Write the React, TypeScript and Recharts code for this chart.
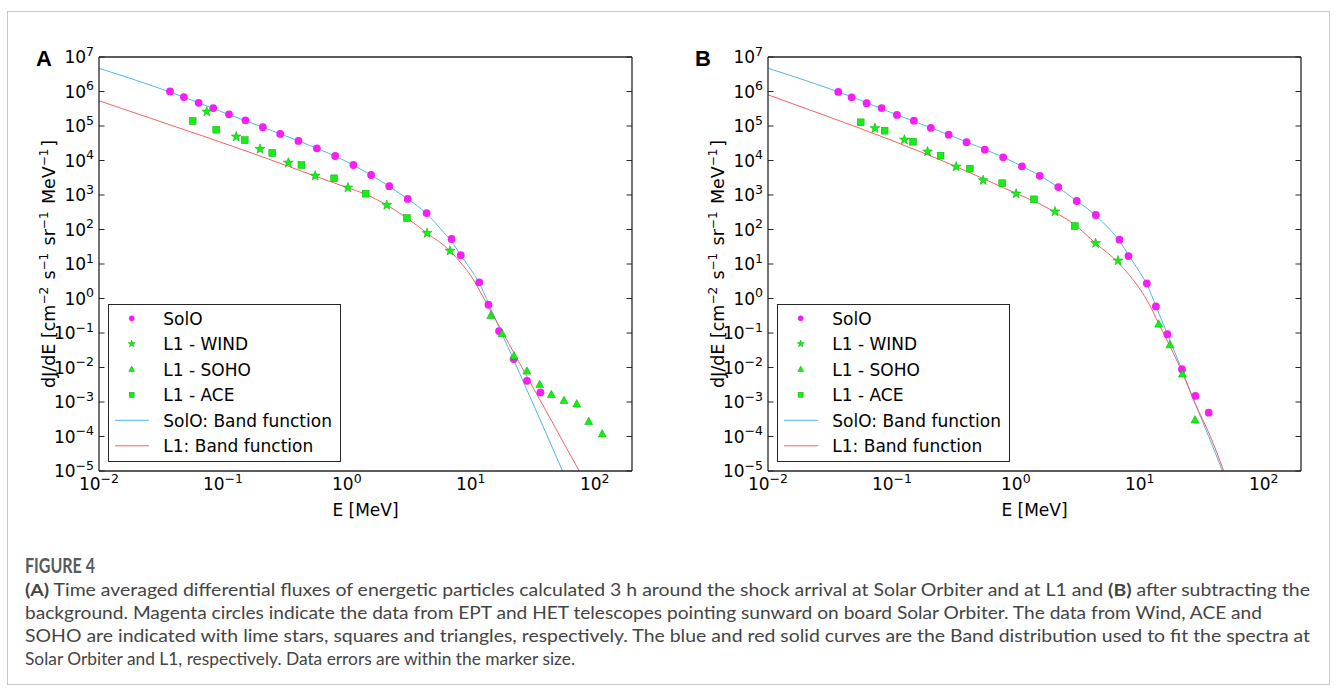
import React from "react";
import { ComposedChart, Line, Scatter, XAxis, YAxis, Legend } from "recharts";

// axis ticks
const X_MAJOR = [0.01, 0.1, 1, 10, 100];
const X_MINOR = [
  0.02, 0.03, 0.04, 0.05, 0.06, 0.07, 0.08, 0.09,
  0.2, 0.3, 0.4, 0.5, 0.6, 0.7, 0.8, 0.9,
  2, 3, 4, 5, 6, 7, 8, 9,
  20, 30, 40, 50, 60, 70, 80, 90,
];
const Y_MAJOR = [1e-5, 1e-4, 1e-3, 1e-2, 1e-1, 1, 1e1, 1e2, 1e3, 1e4, 1e5, 1e6, 1e7];

// panel A: [E (MeV), dJ/dE]
const solO_A = [
  [0.0374, 1.0e6], [0.0484, 6.9e5], [0.0637, 4.7e5], [0.0836, 3.3e5], [0.112, 2.18e5],
  [0.152, 1.46e5], [0.21, 9.2e4], [0.29, 5.9e4], [0.407, 3.7e4], [0.573, 2.26e4],
  [0.805, 1.35e4], [1.13, 7.4e3], [1.57, 3.8e3], [2.2, 1.8e3], [3.1, 770], [4.4, 300],
  [7.0, 53], [8.3, 18], [11.7, 2.95], [13.9, 0.66], [16.9, 0.114], [22.2, 0.0176],
  [28.4, 0.0041], [36.5, 0.0019],
];
const wind_A = [
  [0.074, 2.6e5], [0.128, 4.9e4], [0.199, 2.15e4], [0.337, 8.6e3], [0.555, 3.6e3],
  [1.02, 1.63e3], [2.1, 510], [4.44, 78], [6.8, 24],
];
const soho_A = [
  [14.5, 0.32], [17.9, 0.095], [22.3, 0.0215], [28.4, 0.0078], [36, 0.0032],
  [44.7, 0.00163], [56.5, 0.00109], [71.6, 0.00087], [89.5, 0.00027], [115, 0.000118],
];
const ace_A = [
  [0.057, 1.4e5], [0.0883, 7.8e4], [0.15, 3.9e4], [0.25, 1.65e4], [0.43, 7.4e3],
  [0.79, 3.05e3], [1.42, 1.09e3], [3.05, 215],
];
const bandSolO_A = [
  [0.01, 4.7e6], [0.02, 2.1e6], [0.05, 6.6e5], [0.1, 2.5e5], [0.2, 9.8e4], [0.5, 2.75e4],
  [1, 9.2e3], [2, 2.2e3], [3, 830], [4, 385], [5, 180], [5.8, 97], [7, 45], [8.3, 18],
  [10, 7], [11.7, 2.8], [14, 0.69], [17, 0.14], [22, 0.018], [28, 2.5e-3], [38, 2.1e-4],
  [55, 1e-5],
];
const bandL1_A = [
  [0.01, 5.4e5], [0.03, 1.41e5], [0.074, 4.7e4], [0.2, 1.35e4], [0.55, 3.56e3], [1, 1.65e3],
  [1.42, 1.05e3], [2.1, 510], [3.05, 215], [4.44, 78], [6.8, 24], [8.5, 9.8], [10, 4.6],
  [11.7, 1.77], [14, 0.55], [17, 0.155], [22, 0.029], [28, 6e-3], [40, 6e-4], [75, 1e-5],
];

// panel B
const solO_B = [
  [0.0369, 9.7e5], [0.0473, 6.8e5], [0.0625, 4.6e5], [0.0826, 3.3e5], [0.1097, 2.1e5],
  [0.1504, 1.43e5], [0.206, 8.8e4], [0.287, 5.6e4], [0.4, 3.4e4], [0.562, 2.06e4],
  [0.79, 1.24e4], [1.12, 6.8e3], [1.56, 3.6e3], [2.2, 1.7e3], [3.1, 670], [4.42, 263],
  [6.86, 50.6], [8.11, 17], [11.4, 2.76], [13.5, 0.59], [16.7, 0.092], [21.9, 0.0089],
  [28.1, 0.0015], [36, 4.9e-4],
];
const wind_B = [
  [0.073, 8.6e4], [0.126, 4.0e4], [0.194, 1.8e4], [0.33, 6.6e3], [0.545, 2.67e3],
  [1.005, 1.09e3], [2.07, 330], [4.4, 40], [6.68, 12.5],
];
const soho_B = [[14.2, 0.18], [17.5, 0.045], [22.1, 0.0064], [27.9, 3.0e-4]];
const ace_B = [
  [0.056, 1.28e5], [0.0874, 7.3e4], [0.148, 3.5e4], [0.247, 1.38e4], [0.425, 5.8e3],
  [0.776, 2.2e3], [1.4, 750], [2.99, 126],
];
const bandSolO_B = [
  [0.01, 4.7e6], [0.02, 2.1e6], [0.05, 6.5e5], [0.1, 2.4e5], [0.2, 9.2e4], [0.5, 2.5e4],
  [1, 8.4e3], [2, 2.1e3], [3, 730], [4, 342], [5, 165], [6, 85], [7, 42], [8.1, 18.5],
  [10, 5.8], [11.4, 2.6], [13.5, 0.6], [16.7, 0.092], [21.9, 0.0085], [28, 9e-4],
  [36, 1.0e-4], [46.5, 1e-5],
];
const bandL1_B = [
  [0.01, 8.0e5], [0.03, 1.92e5], [0.1, 3.8e4], [0.3, 7.7e3], [1, 1.12e3], [1.5, 590],
  [2, 340], [3, 135], [4.4, 40], [6.7, 11], [8.3, 4.6], [10, 1.9], [12, 0.65], [14.2, 0.19],
  [17.5, 0.042], [22, 0.0072], [28, 9e-4], [36.7, 1.1e-4], [47.6, 1e-5],
];

const CAPTION = [
  "background. Magenta circles indicate the data from EPT and HET telescopes pointing sunward on board Solar Orbiter. The data from Wind, ACE and",
  "SOHO are indicated with lime stars, squares and triangles, respectively. The blue and red solid curves are the Band distribution used to fit the spectra at",
  "Solar Orbiter and L1, respectively. Data errors are within the marker size.",
];

const FONT = "'DejaVu Sans', sans-serif";
const AX = "#262626";
const MAGENTA = "#f51ef5";
const LIME = "#14f014";
const LIME_EDGE = "#00a800";
const BLUE = "#52b6e8";
const RED = "#f06464";

const pts = (rows: number[][]) => rows.map(([x, y]) => ({ x, y }));

function starPath(cx: number, cy: number, ro: number, ri: number) {
  let d = "";
  for (let i = 0; i < 10; i++) {
    const r = i % 2 === 0 ? ro : ri;
    const a = -Math.PI / 2 + (i * Math.PI) / 5;
    d += `${i === 0 ? "M" : "L"}${cx + r * Math.cos(a)},${cy + r * Math.sin(a)}`;
  }
  return d + "Z";
}

function Marker({ kind, cx, cy, s = 1 }: { kind: string; cx: number; cy: number; s?: number }) {
  if (kind === "circle") return <circle cx={cx} cy={cy} r={3.9 * s} fill={MAGENTA} />;
  if (kind === "star")
    return <path d={starPath(cx, cy, 5.2 * s, 2.1 * s)} fill={LIME} stroke={LIME_EDGE} strokeWidth={0.5} />;
  if (kind === "triangle")
    return (
      <path
        d={`M${cx},${cy - 4.5 * s}L${cx - 4 * s},${cy + 2.9 * s}L${cx + 4 * s},${cy + 2.9 * s}Z`}
        fill={LIME}
        stroke={LIME_EDGE}
        strokeWidth={0.5}
      />
    );
  return (
    <rect x={cx - 3.4 * s} y={cy - 3.4 * s} width={6.8 * s} height={6.8 * s} fill={LIME} stroke={LIME_EDGE} strokeWidth={0.5} />
  );
}

const shapeOf = (kind: string) => (p: any) => <Marker kind={kind} cx={p.cx} cy={p.cy} />;

const NoLabel = () => <g />;

function PowTick(props: any) {
  const { x, y, payload, side } = props;
  const e = Math.round(Math.log10(payload.value));
  const exp = e < 0 ? `\u2212${-e}` : `${e}`;
  const left = side === "left";
  return (
    <text
      x={left ? x - 5 : x}
      y={left ? y + 6 : y + 19}
      textAnchor={left ? "end" : "middle"}
      fontFamily={FONT}
      fontSize={17}
      fill="#000"
    >
      10
      <tspan dy={-7.5} fontSize={12.5}>
        {exp}
      </tspan>
    </text>
  );
}

const LEGEND_ROWS = [
  { name: "SolO", kind: "circle" },
  { name: "L1 - WIND", kind: "star" },
  { name: "L1 - SOHO", kind: "triangle" },
  { name: "L1 - ACE", kind: "square" },
  { name: "SolO: Band function", kind: "lineBlue" },
  { name: "L1: Band function", kind: "lineRed" },
];

function LegendBox() {
  return (
    <div style={{ width: 233, height: 158, border: `1.5px solid ${AX}`, background: "#fff", boxSizing: "border-box" }}>
      <svg width={230} height={155} style={{ display: "block" }}>
        {LEGEND_ROWS.map((r, i) => {
          const cy = 13.3 + 25.5 * i;
          return (
            <g key={r.name}>
              {r.kind.startsWith("line") ? (
                <line x1={6} x2={40} y1={cy} y2={cy} stroke={r.kind === "lineBlue" ? BLUE : RED} strokeWidth={1} />
              ) : (
                <Marker kind={r.kind} cx={22.7} cy={cy} s={0.72} />
              )}
              <text x={54.3} y={cy + 6.3} fontFamily={FONT} fontSize={17} fill="#000">
                {r.name}
              </text>
            </g>
          );
        })}
      </svg>
    </div>
  );
}

const xCommon = { type: "number" as const, scale: "log" as const, domain: [0.01, 200], allowDataOverflow: true, interval: 0 as const };
const yCommon = { type: "number" as const, scale: "log" as const, domain: [1e-5, 1e7], allowDataOverflow: true, interval: 0 as const };

function Panel({
  solO, wind, soho, ace, bandSolO, bandL1,
}: {
  solO: number[][]; wind: number[][]; soho: number[][]; ace: number[][]; bandSolO: number[][]; bandL1: number[][];
}) {
  const tl = { stroke: AX, strokeWidth: 1 };
  const frame = { stroke: AX, strokeWidth: 1.3 };
  return (
    <ComposedChart width={660} height={520} margin={{ top: 57, right: 28, bottom: 9, left: 39 }}>
      <XAxis
        xAxisId="x"
        dataKey="x"
        {...xCommon}
        height={40}
        ticks={X_MAJOR}
        tickSize={0}
        tickMargin={0}
        tickLine={false}
        tick={<PowTick side="bottom" />}
        axisLine={frame}
      />
      <YAxis
        yAxisId="y"
        {...yCommon}
        width={60}
        ticks={Y_MAJOR}
        tickSize={0}
        tickMargin={0}
        tickLine={false}
        tick={<PowTick side="left" />}
        axisLine={frame}
      />
      {/* inward tick marks on all four sides (mirror axes take no space) */}
      <XAxis xAxisId="bMin" mirror {...xCommon} height={10} ticks={X_MINOR} tickSize={3} tickLine={tl} tick={NoLabel} axisLine={false} />
      <XAxis xAxisId="bMaj" mirror {...xCommon} height={10} ticks={X_MAJOR} tickSize={5.5} tickLine={tl} tick={NoLabel} axisLine={false} />
      <XAxis xAxisId="tMin" mirror orientation="top" {...xCommon} height={10} ticks={X_MINOR} tickSize={3} tickLine={tl} tick={NoLabel} axisLine={false} />
      <XAxis xAxisId="tMaj" mirror orientation="top" {...xCommon} height={10} ticks={X_MAJOR} tickSize={5.5} tickLine={tl} tick={NoLabel} axisLine={frame} />
      <YAxis yAxisId="lMaj" mirror {...yCommon} width={10} ticks={Y_MAJOR} tickSize={5.5} tickLine={tl} tick={NoLabel} axisLine={false} />
      <YAxis yAxisId="rMaj" mirror orientation="right" {...yCommon} width={10} ticks={Y_MAJOR} tickSize={5.5} tickLine={tl} tick={NoLabel} axisLine={frame} />

      <Line xAxisId="x" yAxisId="y" data={pts(bandSolO)} dataKey="y" type="monotone" stroke={BLUE} strokeWidth={1} dot={false} isAnimationActive={false} />
      <Line xAxisId="x" yAxisId="y" data={pts(bandL1)} dataKey="y" type="monotone" stroke={RED} strokeWidth={1} dot={false} isAnimationActive={false} />
      <Scatter xAxisId="x" yAxisId="y" data={pts(solO)} dataKey="y" shape={shapeOf("circle")} isAnimationActive={false} />
      <Scatter xAxisId="x" yAxisId="y" data={pts(wind)} dataKey="y" shape={shapeOf("star")} isAnimationActive={false} />
      <Scatter xAxisId="x" yAxisId="y" data={pts(soho)} dataKey="y" shape={shapeOf("triangle")} isAnimationActive={false} />
      <Scatter xAxisId="x" yAxisId="y" data={pts(ace)} dataKey="y" shape={shapeOf("square")} isAnimationActive={false} />

      <Legend
        layout="vertical"
        align="center"
        verticalAlign="middle"
        content={<LegendBox />}
        wrapperStyle={{ left: 108, top: 304, width: 233, height: 158 }}
      />
    </ComposedChart>
  );
}

function YTitle({ x }: { x: number }) {
  const sup = (t: string) => (
    <>
      <tspan dy={-7} fontSize={12}>{t}</tspan>
      <tspan dy={7}>{"\u200a"}</tspan>
    </>
  );
  return (
    <text transform={`translate(${x},264) rotate(-90)`} textAnchor="middle" fontFamily={FONT} fontSize={17.5} fill="#000">
      dJ/dE [cm{sup("\u22122")} s{sup("\u22121")} sr{sup("\u22121")} MeV{sup("\u22121")}]
    </text>
  );
}

export default function App() {
  const capFont = "Lato, 'Open Sans', sans-serif";
  return (
    <div style={{ position: "absolute", left: 0, top: 0, width: 1333, height: 689, background: "#fff", overflow: "hidden" }}>
      <div style={{ position: "absolute", left: 0, top: 0 }}>
        <Panel solO={solO_A} wind={wind_A} soho={soho_A} ace={ace_A} bandSolO={bandSolO_A} bandL1={bandL1_A} />
      </div>
      <div style={{ position: "absolute", left: 669, top: 0 }}>
        <Panel solO={solO_B} wind={wind_B} soho={soho_B} ace={ace_B} bandSolO={bandSolO_B} bandL1={bandL1_B} />
      </div>
      <svg width={1333} height={689} style={{ position: "absolute", left: 0, top: 0, pointerEvents: "none" }}>
        <rect x={7.5} y={11.5} width={1322} height={673} fill="none" stroke="#c8c8c8" strokeWidth={1} />
        <text x={36} y={66} fontFamily="'Liberation Sans', Arial, sans-serif" fontWeight="bold" fontSize={22} fill="#000">A</text>
        <text x={695} y={66} fontFamily="'Liberation Sans', Arial, sans-serif" fontWeight="bold" fontSize={22} fill="#000">B</text>
        <YTitle x={55} />
        <YTitle x={724} />
        <text x={365.5} y={516} textAnchor="middle" fontFamily={FONT} fontSize={17} fill="#000">E [MeV]</text>
        <text x={1034.5} y={516} textAnchor="middle" fontFamily={FONT} fontSize={17} fill="#000">E [MeV]</text>

        <text x={25} y={573} fontFamily={capFont} fontSize={20} fontWeight={700} fill="#5a5a5a" textLength={70} lengthAdjust="spacingAndGlyphs">FIGURE 4</text>
        <text x={25} y={596} fontFamily={capFont} fontSize={17} fill="#444" textLength={1285} lengthAdjust="spacingAndGlyphs">
          <tspan fontWeight="bold">(A)</tspan> Time averaged differential fluxes of energetic particles calculated 3 h around the shock arrival at Solar Orbiter and at L1 and{" "}
          <tspan fontWeight="bold">(B)</tspan> after subtracting the
        </text>
        <text x={25} y={619} fontFamily={capFont} fontSize={17} fill="#444" textLength={1237} lengthAdjust="spacingAndGlyphs">{CAPTION[0]}</text>
        <text x={25} y={642} fontFamily={capFont} fontSize={17} fill="#444" textLength={1285} lengthAdjust="spacingAndGlyphs">{CAPTION[1]}</text>
        <text x={25} y={665} fontFamily={capFont} fontSize={17} fill="#444" textLength={550} lengthAdjust="spacingAndGlyphs">{CAPTION[2]}</text>
      </svg>
    </div>
  );
}
